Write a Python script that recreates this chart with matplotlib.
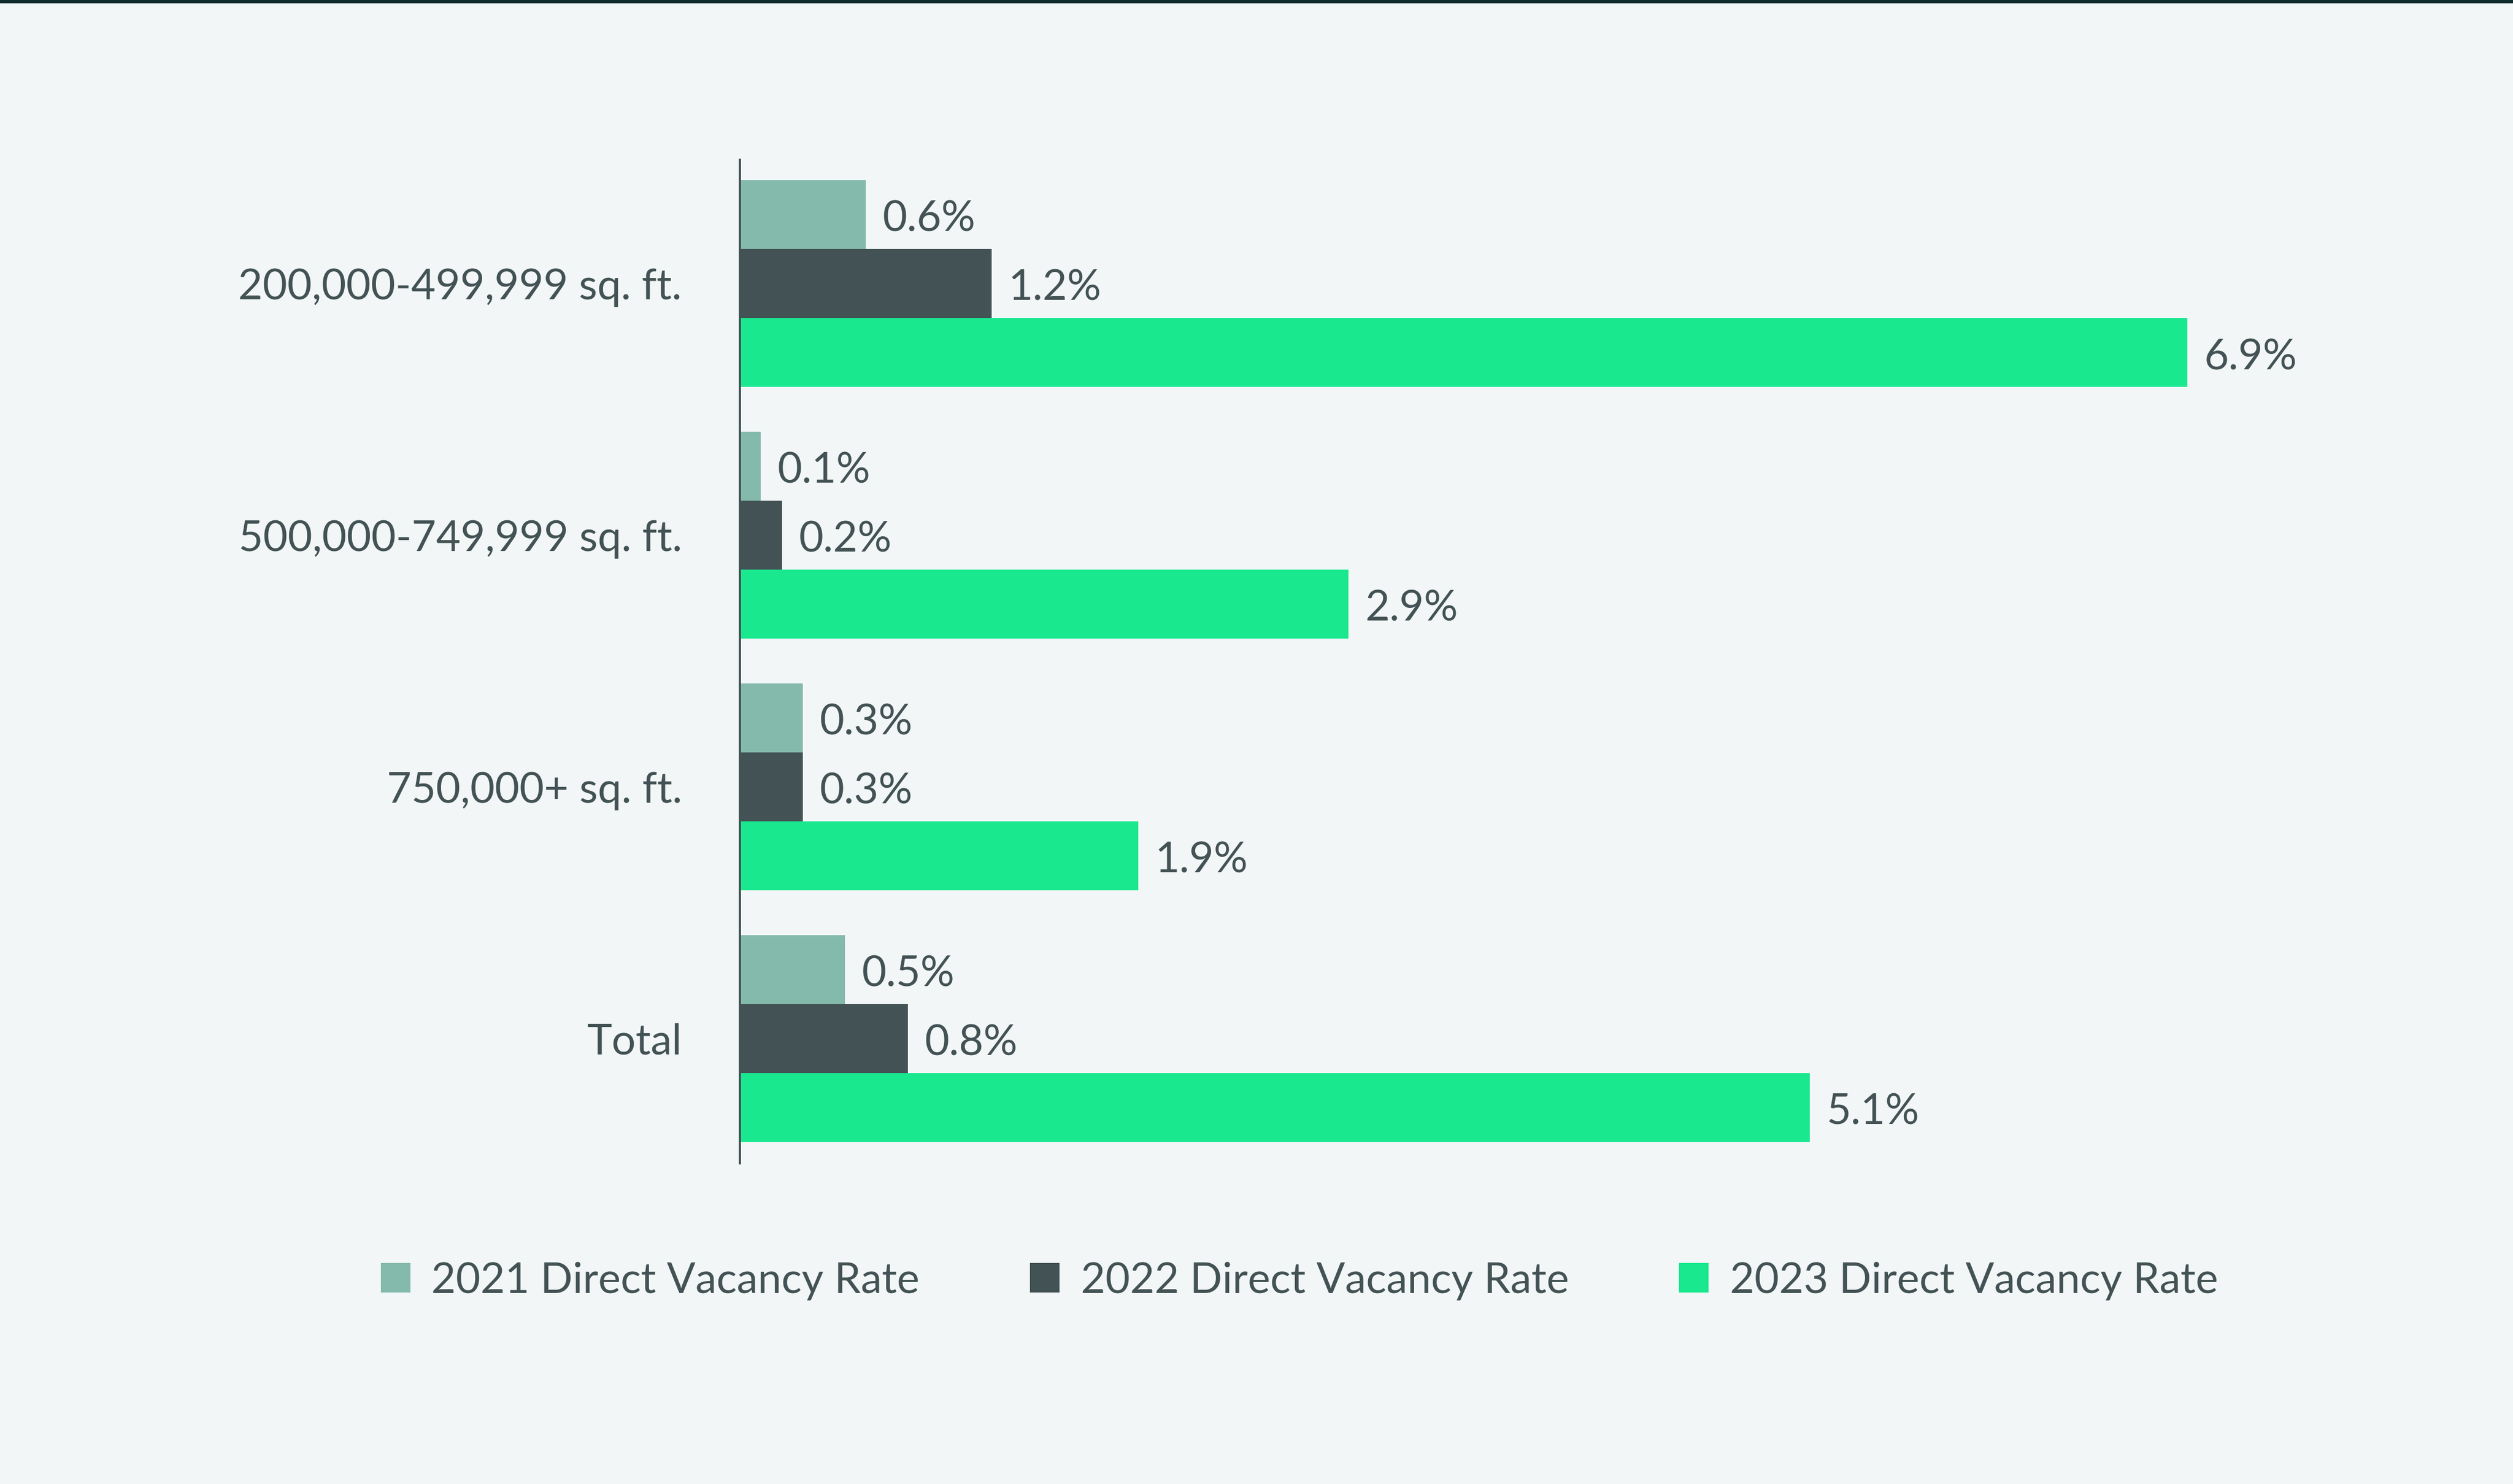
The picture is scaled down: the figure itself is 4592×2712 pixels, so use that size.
import matplotlib
matplotlib.use("Agg")
import matplotlib.pyplot as plt
import numpy as np

categories = ["200,000-499,999 sq. ft.", "500,000-749,999 sq. ft.", "750,000+ sq. ft.", "Total"]
series_names = ["2021 Direct Vacancy Rate", "2022 Direct Vacancy Rate", "2023 Direct Vacancy Rate"]
v2021 = [0.6, 0.1, 0.3, 0.5]
v2022 = [1.2, 0.2, 0.3, 0.8]
v2023 = [6.9, 2.9, 1.9, 5.1]
colors = ["#84BAAC", "#435254", "#19E88F"]

bg = "#F2F6F7"
txt = "#435254"
plt.rcParams["font.family"] = "Lato"

fig = plt.figure(figsize=(15.66, 9.25), dpi=293.24, facecolor=bg)
ax = fig.add_axes([0.2944, 0.216, 0.958 - 0.2944, 0.676])
ax.set_facecolor(bg)

y = np.arange(len(categories))
h = 0.274
for i, (vals, c, n) in enumerate(zip([v2021, v2022, v2023], colors, series_names)):
    pos = y + (i - 1) * h
    ax.barh(pos, vals, height=h, color=c, label=n)
    for p, v in zip(pos, vals):
        ax.text(v + 0.08, p + 0.02, f"{v:.1f}%", va="center", ha="left", fontsize=19, color=txt)

ax.set_xlim(0, 7.95)
ax.set_ylim(3.497, -0.49)
ax.set_yticks(y)
ax.set_yticklabels(categories, fontsize=19, color=txt)
ax.tick_params(axis="y", length=0, pad=26)
ax.set_xticks([])
for s in ["top", "right", "bottom"]:
    ax.spines[s].set_visible(False)
ax.spines["left"].set_color(txt)
ax.spines["left"].set_linewidth(1.0)

fig.legend(loc="center", bbox_to_anchor=(0.517, 0.137), ncol=3, frameon=False,
           fontsize=19, labelcolor=txt, handlelength=0.7, handleheight=0.7,
           handletextpad=0.5, columnspacing=2.6)

fig.add_artist(plt.Line2D([0, 1], [0.999, 0.999], color="#0F2B2B", lw=2, transform=fig.transFigure))
fig.savefig("out.png", facecolor=bg)
